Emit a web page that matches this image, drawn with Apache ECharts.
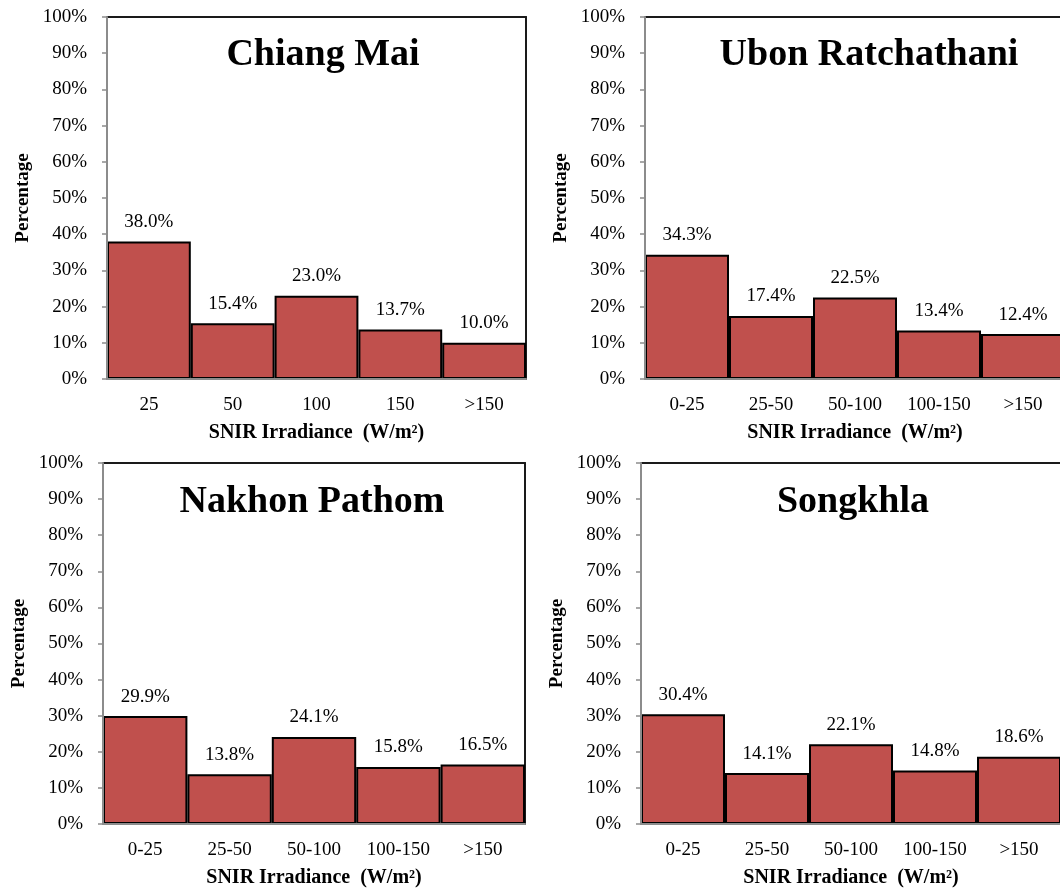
<!DOCTYPE html>
<html>
<head>
<meta charset="utf-8">
<script src="https://cdn.jsdelivr.net/npm/echarts@6/dist/echarts.min.js"></script>
<style>
  html, body { margin: 0; padding: 0; background: #ffffff; }
  #chart { width: 1060px; height: 891px; }
</style>
</head>
<body>
<div id="chart"></div>
<script>
// Distribution of SNIR irradiance classes at four stations (percent of records)
const chiangMaiBins = ['25', '50', '100', '150', '>150'];
const rangeBins = ['0-25', '25-50', '50-100', '100-150', '>150'];

const chiangMaiValues = [38.0, 15.4, 23.0, 13.7, 10.0];
const ubonValues = [34.3, 17.4, 22.5, 13.4, 12.4];
const nakhonValues = [29.9, 13.8, 24.1, 15.8, 16.5];
const songkhlaValues = [30.4, 14.1, 22.1, 14.8, 18.6];

const yTicks = { min: 0, max: 100, interval: 10 };

const stations = [
  { name: 'Chiang Mai', bins: chiangMaiBins, values: chiangMaiValues,
    grid: { left: 107, top: 17, width: 419, height: 362 }, titleX: 318, titleY: 31 },
  { name: 'Ubon Ratchathani', bins: rangeBins, values: ubonValues,
    grid: { left: 645, top: 17, width: 420, height: 362 }, titleX: 864, titleY: 31 },
  { name: 'Nakhon Pathom', bins: rangeBins, values: nakhonValues,
    grid: { left: 103, top: 463, width: 422, height: 361 }, titleX: 307, titleY: 478 },
  { name: 'Songkhla', bins: rangeBins, values: songkhlaValues,
    grid: { left: 641, top: 463, width: 420, height: 361 }, titleX: 848, titleY: 478 }
];

const serif = '"Liberation Serif", "Times New Roman", serif';
const axisGrey = '#8c8c8c';
const frameBlack = '#1a1a1a';

const xAxes = [];
const yAxes = [];
stations.forEach((s, i) => {
  // bottom category axis
  xAxes.push({
    type: 'category',
    gridIndex: i,
    position: 'bottom',
    data: s.bins,
    name: 'SNIR Irradiance  (W/m²)',
    nameLocation: 'middle',
    nameGap: 44,
    nameTextStyle: { fontFamily: serif, fontSize: 20, fontWeight: 'bold', color: '#000' },
    axisLine: { show: true, onZero: false, lineStyle: { color: axisGrey, width: 2 } },
    axisTick: { show: false },
    axisLabel: { fontFamily: serif, fontSize: 19, color: '#000', margin: 17 },
    splitLine: { show: false },
    z: 3
  });
  // top edge of the plot frame
  xAxes.push({
    type: 'category',
    gridIndex: i,
    position: 'top',
    data: s.bins,
    axisLine: { show: true, onZero: false, lineStyle: { color: frameBlack, width: 2 } },
    axisTick: { show: false },
    axisLabel: { show: false },
    splitLine: { show: false }
  });
  // left value axis
  yAxes.push({
    type: 'value',
    gridIndex: i,
    position: 'left',
    min: yTicks.min,
    max: yTicks.max,
    interval: yTicks.interval,
    name: 'Percentage',
    nameLocation: 'middle',
    nameRotate: 90,
    nameGap: 74,
    nameTextStyle: { fontFamily: serif, fontSize: 19, fontWeight: 'bold', color: '#000' },
    axisLine: { show: true, onZero: false, lineStyle: { color: axisGrey, width: 2 } },
    axisTick: { show: true, inside: false, length: 5, lineStyle: { color: axisGrey, width: 1.5 } },
    axisLabel: { fontFamily: serif, fontSize: 19, color: '#000', margin: 20, formatter: '{value}%' },
    splitLine: { show: false },
    z: 3
  });
  // right edge of the plot frame
  yAxes.push({
    type: 'value',
    gridIndex: i,
    position: 'right',
    min: yTicks.min,
    max: yTicks.max,
    interval: yTicks.interval,
    axisLine: { show: true, onZero: false, lineStyle: { color: frameBlack, width: 2 } },
    axisTick: { show: false },
    axisLabel: { show: false },
    splitLine: { show: false }
  });
});

const option = {
  animation: false,
  backgroundColor: '#ffffff',
  textStyle: { fontFamily: serif },
  title: stations.map(s => ({
    text: s.name,
    left: s.titleX,
    top: s.titleY,
    textAlign: 'center',
    textStyle: { fontFamily: serif, fontSize: 38, fontWeight: 'bold', color: '#000' }
  })),
  grid: stations.map(s => Object.assign({
    show: false,
    containLabel: false,
    outerBoundsMode: 'none'
  }, s.grid)),
  xAxis: xAxes,
  yAxis: yAxes,
  series: stations.map((s, i) => ({
    type: 'bar',
    xAxisIndex: 2 * i,
    yAxisIndex: 2 * i,
    data: s.values,
    barCategoryGap: '0%',
    itemStyle: { color: '#C0504D', borderColor: '#000', borderWidth: 2 },
    label: {
      show: true,
      position: 'top',
      distance: 10,
      fontFamily: serif,
      fontSize: 19,
      color: '#000',
      formatter: p => p.value.toFixed(1) + '%'
    }
  }))
};

const chart = echarts.init(document.getElementById('chart'), null, { renderer: 'canvas' });
chart.setOption(option);
</script>
</body>
</html>
